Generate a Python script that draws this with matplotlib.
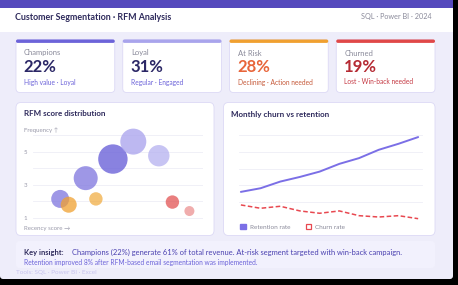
import matplotlib
matplotlib.use("Agg")
import matplotlib.pyplot as plt
from matplotlib.patches import FancyBboxPatch, Rectangle, Patch
from matplotlib.colors import to_rgba

plt.rcParams['font.family'] = ['Lato', 'DejaVu Sans']

# ---------------- data ----------------
title = "Customer Segmentation · RFM Analysis"
subtitle = "SQL · Power BI · 2024"

segments = ["Champions", "Loyal", "At Risk", "Churned"]
shares = [22, 31, 28, 19]
seg_notes = ["High value · Loyal", "Regular · Engaged",
             "Declining · Action needed", "Lost · Win-back needed"]

recency = [1.6, 2.1, 3.1, 3.7, 4.7, 5.9, 7.4, 8.2, 9.2]
frequency = [2.15, 1.8, 3.4, 2.15, 4.55, 5.6, 4.75, 1.96, 1.42]
monetary = [9, 8, 12, 6.7, 14.7, 13, 10.7, 6.7, 5]
freq_ticks = [1, 3, 5]

months = list(range(1, 11))
retention = [32.2, 36.6, 44.6, 50.2, 56.6, 65.9, 72.8, 82.8, 90.0, 98.1]
churn = [16.5, 12.5, 14.9, 9.3, 6.5, 9.3, 3.6, 2.0, 3.6, 0.0]

insight_head = "Key insight:"
insight_text = "Champions (22%) generate 61% of total revenue. At-risk segment targeted with win-back campaign."
insight_line2 = "Retention improved 8% after RFM-based email segmentation was implemented."
tools_text = "Tools: SQL · Power BI · Excel"

# ---------------- styles ----------------
W, H = 458, 285
BG = "#EEEDFA"
stripe_colors = ["#6C63D9", "#A9A4EC", "#F0A030", "#E04848"]
value_colors = ["#2B2766", "#2B2766", "#E8653A", "#B52A33"]
note_colors = ["#6C63D9", "#6C63D9", "#C65A3A", "#C53A44"]
bubble_colors = ["#7E75DE", "#F0A030", "#7E75DE", "#F0A838", "#6C63D9",
                 "#ADA7EE", "#B5B0F0", "#E04848", "#E46A6A"]
bubble_alpha = [0.75, 0.75, 0.75, 0.7, 0.8, 0.8, 0.75, 0.7, 0.55]

fig = plt.figure(figsize=(W / 100, H / 100), dpi=100)
fig.patch.set_facecolor("black")

bg = fig.add_axes([0, 0, 1, 1])
bg.set_xlim(0, W)
bg.set_ylim(H, 0)
bg.axis("off")

def rbox(x, y, w, h, fc, ec="none", r=4, lw=0.6, z=1):
    p = FancyBboxPatch((x, y), w, h, boxstyle=f"round,pad=0,rounding_size={r}",
                       fc=fc, ec=ec, lw=lw, zorder=z)
    bg.add_patch(p)
    return p

# page
bg.add_patch(Rectangle((0, 0), 453, 272, fc=BG, ec="none", zorder=0))
rbox(0, 262, 453, 17, BG, r=3, z=0)
bg.add_patch(Rectangle((0, 0), 453, 7.5, fc="#5549BD", ec="none", zorder=1))
bg.add_patch(Rectangle((0, 7.5), 453, 24.5, fc="white", ec="none", zorder=1))

bg.text(15, 17, title, fontsize=6.4, color="#2E2A5C", fontweight="bold",
        va="center", ha="left", zorder=3)
bg.text(432, 17, subtitle, fontsize=5.2, color="#8A8A9A", va="center",
        ha="right", zorder=3)

# KPI cards
card_w = 98.75
for i, (seg, sh, note) in enumerate(zip(segments, shares, seg_notes)):
    x0 = 16 + i * (card_w + 8)
    rbox(x0, 39.5, card_w, 53, "white", ec="#DCD9F5", r=4, z=2)
    rbox(x0, 39.5, card_w, 3.4, stripe_colors[i], r=1.7, z=3)
    bg.text(x0 + 8, 53, seg, fontsize=5.5, color="#8A8A9A", va="center", zorder=4)
    bg.text(x0 + 7.5, 67, f"{sh}%", fontsize=12, color=value_colors[i],
            fontweight="bold", va="center", zorder=4)
    bg.text(x0 + 8, 82, note, fontsize=4.8, color=note_colors[i], va="center", zorder=4)

# panels
rbox(16, 102.5, 198, 133, "white", ec="#DCD9F5", r=5, z=2)
rbox(223.5, 102.5, 211.5, 133, "white", ec="#DCD9F5", r=5, z=2)
bg.text(24, 114, "RFM score distribution", fontsize=5.8, color="#2E2A5C",
        fontweight="bold", va="center", zorder=4)
bg.text(231, 114, "Monthly churn vs retention", fontsize=5.8, color="#2E2A5C",
        fontweight="bold", va="center", zorder=4)
bg.text(24, 130.5, "Frequency ↑", fontsize=4.4, color="#9A9AAA", va="center",
        zorder=4)
bg.text(24, 228.5, "Recency score →", fontsize=4.4, color="#9A9AAA", va="center",
        zorder=4)

# insight
rbox(16, 241, 419, 27, "#F2F1FD", r=4, z=1)
bg.text(24, 252, insight_head, fontsize=5.4, color="#2E2A5C", fontweight="bold",
        va="center", zorder=4)
bg.text(72.5, 252, insight_text, fontsize=5.4, color="#4A40B0", va="center", zorder=4)
bg.text(24, 262.5, insight_line2, fontsize=4.8, color="#6C63D9", va="center", zorder=4)
bg.text(16, 272.5, tools_text, fontsize=4.6, color="#C7C3EE", va="center", zorder=4)

def px_axes(x0, y0, x1, y1):
    ax = fig.add_axes([x0 / W, 1 - y1 / H, (x1 - x0) / W, (y1 - y0) / H])
    ax.set_facecolor("none")
    for s in ax.spines.values():
        s.set_visible(False)
    return ax

# bubble chart
ax1 = px_axes(33, 125, 203, 222)
ax1.set_xlim(0, 10)
ax1.set_ylim(0.76, 6.6)
for g in range(1, 7):
    ax1.axhline(g, color="#EEEEF6", lw=0.6, zorder=0)
sizes = [(1.44 * m) ** 2 for m in monetary]
ax1.scatter(recency, frequency, s=sizes,
            c=[to_rgba(c, a) for c, a in zip(bubble_colors, bubble_alpha)],
            edgecolors="none", zorder=3)
ax1.set_xticks([])
ax1.set_yticks(freq_ticks)
ax1.set_yticklabels([str(t) for t in freq_ticks])
ax1.tick_params(axis="y", length=0, pad=4, labelsize=4.4, labelcolor="#9A9AAA")

# line chart
ax2 = px_axes(233, 128, 428, 222)
ax2.set_xlim(0.6, 10.5)
ax2.set_ylim(-4, 109)
for g in [20, 40, 60, 80, 100]:
    ax2.axhline(g, xmin=0.03, xmax=0.97, color="#EEEEF6", lw=0.6, zorder=0)
ax2.plot(months, retention, color="#7B6FE6", lw=1.4, solid_capstyle="round",
         label="Retention rate", zorder=3)
ax2.plot(months, churn, color="#E84850", lw=1.1, ls=(0, (3, 1.6)),
         label="Churn rate", zorder=3)
ax2.set_xticks([])
ax2.set_yticks([])
handles = [Patch(fc="#7B6FE6", ec="#7B6FE6", label="Retention rate"),
           Patch(fc="white", ec="#E84850", lw=0.9, label="Churn rate")]
ax2.legend(handles=handles, loc="center left", bbox_to_anchor=(237 / W, 1 - 227 / H),
           bbox_transform=fig.transFigure, ncol=2, frameon=False, fontsize=4.6,
           handlelength=0.9, handleheight=0.9, handletextpad=0.6, columnspacing=2.4,
           labelcolor="#8A8A9A", borderpad=0)

fig.savefig("out.png", dpi=100, facecolor=fig.get_facecolor())
